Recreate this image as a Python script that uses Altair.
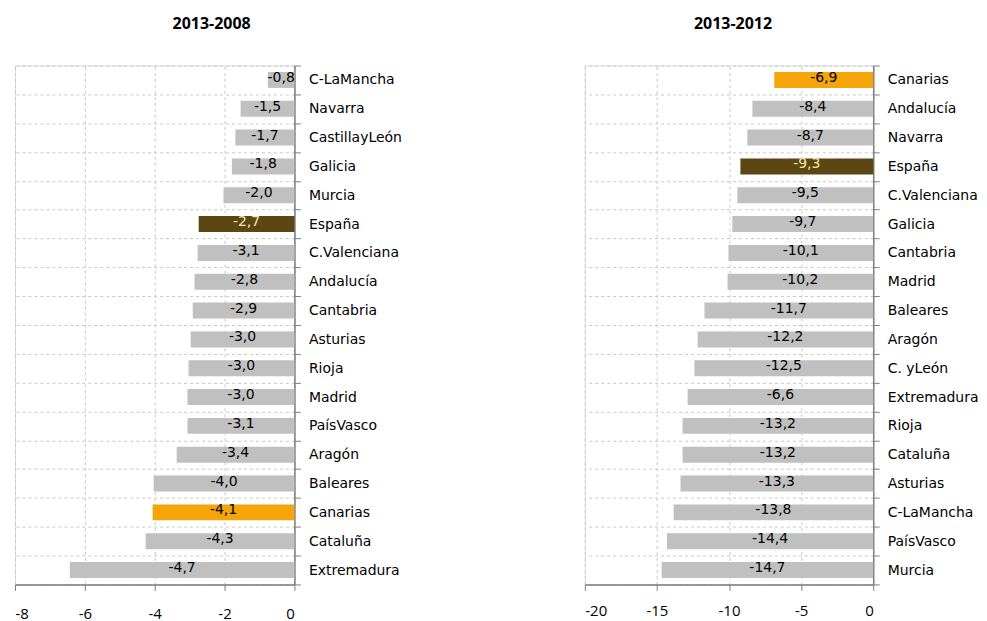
import altair as alt
import pandas as pd

# ---- data: left panel (2013-2008) ----
left_regions = ["C-LaMancha", "Navarra", "CastillayLeón", "Galicia", "Murcia", "España",
                "C.Valenciana", "Andalucía", "Cantabria", "Asturias", "Rioja", "Madrid",
                "PaísVasco", "Aragón", "Baleares", "Canarias", "Cataluña", "Extremadura"]
left_values = [-0.76, -1.54, -1.69, -1.79, -2.03, -2.74, -2.77, -2.86, -2.91, -2.97,
               -3.03, -3.06, -3.06, -3.37, -4.03, -4.06, -4.26, -6.43]
left_labels = ["-0,8", "-1,5", "-1,7", "-1,8", "-2,0", "-2,7", "-3,1", "-2,8", "-2,9", "-3,0",
               "-3,0", "-3,0", "-3,1", "-3,4", "-4,0", "-4,1", "-4,3", "-4,7"]
left_ticks = [-8, -6, -4, -2, 0]

# ---- data: right panel (2013-2012) ----
right_regions = ["Canarias", "Andalucía", "Navarra", "España", "C.Valenciana", "Galicia",
                 "Cantabria", "Madrid", "Baleares", "Aragón", "C. yLeón", "Extremadura",
                 "Rioja", "Cataluña", "Asturias", "C-LaMancha", "PaísVasco", "Murcia"]
right_values = [-6.86, -8.38, -8.73, -9.21, -9.42, -9.77, -10.04, -10.10, -11.70, -12.18,
                -12.40, -12.87, -13.22, -13.22, -13.36, -13.84, -14.30, -14.67]
right_labels = ["-6,9", "-8,4", "-8,7", "-9,3", "-9,5", "-9,7", "-10,1", "-10,2", "-11,7",
                "-12,2", "-12,5", "-6,6", "-13,2", "-13,2", "-13,3", "-13,8", "-14,4", "-14,7"]
right_ticks = [-20, -15, -10, -5, 0]

GREY = "#C0C0C0"
ORANGE = "#F5A40A"
BROWN = "#5C4614"
AXIS_COL = "#7F7F7F"
GRID_COL = "#C8C8C8"
LABEL_FONT = "DejaVu Sans"
NUM_FONT = "Open Sans"


def panel(regions, values, labels, ticks, title, width, height, dx, xlabel_pad):
    df = pd.DataFrame({"region": regions, "value": values, "label": labels})
    base = alt.Chart(df).transform_calculate(
        grp="datum.region == 'España' ? 'esp' : (datum.region == 'Canarias' ? 'can' : 'oth')",
        mid="datum.value / 2",
    )
    yenc = alt.Y(
        "region:N",
        sort=regions,
        scale=alt.Scale(paddingInner=0, paddingOuter=0),
        axis=alt.Axis(
            orient="right", title=None, tickBand="extent",
            grid=True, gridDash=[3, 3], gridColor=GRID_COL, gridWidth=1,
            domainColor=AXIS_COL, domainWidth=1.5, tickColor=AXIS_COL, tickSize=6,
            labelFont=LABEL_FONT, labelFontSize=14, labelColor="#000000",
            labelPadding=8, labelLimit=200,
        ),
    )
    bars = base.mark_bar(size=16).encode(
        x=alt.X(
            "value:Q",
            scale=alt.Scale(domain=[ticks[0], ticks[-1]], nice=False, zero=True),
            axis=alt.Axis(
                title=None, values=ticks, labelExpr="'' + datum.value",
                grid=True, gridDash=[3, 3], gridColor=GRID_COL, gridWidth=1,
                domainColor=AXIS_COL, domainWidth=1.5, tickColor=AXIS_COL, tickSize=6,
                labelFont=NUM_FONT, labelFontSize=15, labelColor="#000000",
                labelPadding=xlabel_pad,
            ),
        ),
        y=yenc,
        color=alt.Color(
            "grp:N",
            scale=alt.Scale(domain=["esp", "can", "oth"], range=[BROWN, ORANGE, GREY]),
            legend=None,
        ),
    )
    texts = base.mark_text(font=LABEL_FONT, fontSize=14, baseline="middle", dy=-2).encode(
        x="mid:Q",
        y=alt.Y("region:N", sort=regions),
        text="label:N",
        color=alt.Color(
            "grp:N",
            scale=alt.Scale(domain=["esp", "can", "oth"], range=["#F3E9A0", "#000000", "#000000"]),
            legend=None,
        ),
    )
    return alt.layer(bars, texts).resolve_scale(color="independent").properties(
        width=width, height=height,
        title=alt.TitleParams(
            title, font=NUM_FONT, fontSize=16, fontWeight="bold", color="#000000",
            anchor="middle", frame="group", dx=dx, offset=27,
        ),
    )


left = panel(left_regions, left_values, left_labels, left_ticks, "2013-2008", 280, 520, 57, 16)
right = panel(right_regions, right_values, right_labels, right_ticks, "2013-2012", 289, 520, 4, 13)

chart = alt.hconcat(left, right, spacing=182).properties(
    padding={"left": 6, "top": 6, "right": 0, "bottom": 0}
).configure_view(stroke=None).configure(background="#FFFFFF")

chart.save("out.html", embed_options={"renderer": "svg", "actions": False})
